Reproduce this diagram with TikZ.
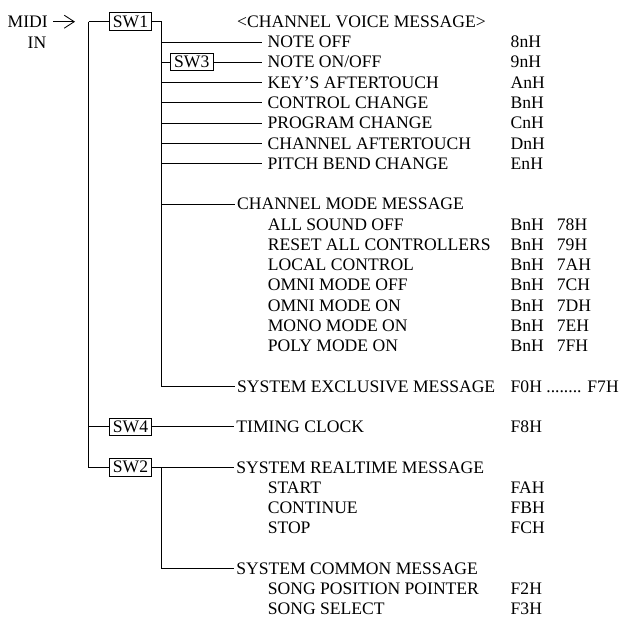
\documentclass[tikz,border=0pt]{standalone}
\usepackage{fontspec}
\setmainfont{Liberation Serif}
\usetikzlibrary{arrows.meta}
\newcommand{\fs}{\fontsize{17.6}{20}\selectfont}
\begin{document}
\begin{tikzpicture}[x=1pt,y=-1pt,
  lbl/.style={font=\fs, inner sep=0pt, text height=11.6pt, text depth=0pt, anchor=west},
  lead/.style={lbl, outer xsep=5.6pt},
  head/.style={lbl, outer xsep=2.4pt},
  swbox/.style={draw, line width=0.9pt, font=\fs, inner sep=0pt, minimum width=42.5pt, minimum height=17.5pt},
  wire/.style={line width=0.85pt}]
\useasboundingbox (0,0) rectangle (619,618);
% rows: y = 21.7 + 20.25 n
% input
\node[lbl, anchor=east] (midi) at (48,21.7) {MIDI};
\node[lbl, anchor=east] (in) at (46.5,42.5) {IN};
\coordinate (tip) at (75,21.7);
\draw[wire, -{Straight Barb[length=10pt,width=13pt,line width=0.85pt]}] ([xshift=5pt]midi.east) -- (tip);
% switches
\node[swbox] (sw1) at (130.5,21.7) {SW1};
\node[swbox] (sw3) at (191.7,{21.7+20.25*2}) {SW3};
\node[swbox] (sw4) at (130.5,{21.7+20.25*20}) {SW4};
\node[swbox] (sw2) at (130.5,{21.7+20.25*22}) {SW2};
% bus coordinates
\coordinate (m0) at (88.5,21.7);
\coordinate (m20) at (88.5,{21.7+20.25*20});
\coordinate (m22) at (88.5,{21.7+20.25*22});
\foreach \n in {0,1,2,3,4,5,6,7,9,18}{\coordinate (a\n) at (161.5,{21.7+20.25*\n});}
\coordinate (c22) at (161.7,{21.7+20.25*22});
\coordinate (c27) at (161.7,{21.7+20.25*27});
% channel voice
\node[lbl] (cvm) at (237,21.7) {<CHANNEL VOICE MESSAGE>};
\node[lead] (noff) at (262,{21.7+20.25*1}) {NOTE OFF};
\node[lead] (non) at (262,{21.7+20.25*2}) {NOTE ON/OFF};
\node[lead] (kat) at (262,{21.7+20.25*3}) {KEY’S AFTERTOUCH};
\node[lead] (cc) at (262,{21.7+20.25*4}) {CONTROL CHANGE};
\node[lead] (pc) at (262,{21.7+20.25*5}) {PROGRAM CHANGE};
\node[lead] (cat) at (262,{21.7+20.25*6}) {CHANNEL AFTERTOUCH};
\node[lead] (pb) at (262,{21.7+20.25*7}) {PITCH BEND CHANGE};
\node[lbl] (k1) at (510.5,{21.7+20.25*1}) {8nH};
\node[lbl] (k2) at (510.5,{21.7+20.25*2}) {9nH};
\node[lbl] (k3) at (510.5,{21.7+20.25*3}) {AnH};
\node[lbl] (k4) at (510.5,{21.7+20.25*4}) {BnH};
\node[lbl] (k5) at (510.5,{21.7+20.25*5}) {CnH};
\node[lbl] (k6) at (510.5,{21.7+20.25*6}) {DnH};
\node[lbl] (k7) at (510.5,{21.7+20.25*7}) {EnH};
% channel mode
\node[head] (cmm) at (234.7,{21.7+20.25*9}) {CHANNEL MODE MESSAGE};
\node[lbl] (s10) at (267.6,{21.7+20.25*10}) {ALL SOUND OFF};
\node[lbl] (s11) at (267.6,{21.7+20.25*11}) {RESET ALL CONTROLLERS};
\node[lbl] (s12) at (267.6,{21.7+20.25*12}) {LOCAL CONTROL};
\node[lbl] (s13) at (267.6,{21.7+20.25*13}) {OMNI MODE OFF};
\node[lbl] (s14) at (267.6,{21.7+20.25*14}) {OMNI MODE ON};
\node[lbl] (s15) at (267.6,{21.7+20.25*15}) {MONO MODE ON};
\node[lbl] (s16) at (267.6,{21.7+20.25*16}) {POLY MODE ON};
\foreach \n/\c in {10/78H,11/79H,12/7AH,13/7CH,14/7DH,15/7EH,16/7FH}{
  \node[lbl] (b\n) at (510.5,{21.7+20.25*\n}) {BnH};
  \node[lbl] (h\n) at (556.7,{21.7+20.25*\n}) {\c};
}
% system exclusive
\node[head] (sysex) at (234.7,{21.7+20.25*18}) {SYSTEM EXCLUSIVE MESSAGE};
\node[lbl] (kex) at (510.5,{21.7+20.25*18}) {F0H ........ F7H};
% timing
\node[head] (tc) at (234,{21.7+20.25*20}) {TIMING CLOCK};
\node[lbl] (k20) at (510.5,{21.7+20.25*20}) {F8H};
% realtime
\node[head] (srt) at (234,{21.7+20.25*22}) {SYSTEM REALTIME MESSAGE};
\node[lbl] (s23) at (267.6,{21.7+20.25*23}) {START};
\node[lbl] (s24) at (267.6,{21.7+20.25*24}) {CONTINUE};
\node[lbl] (s25) at (267.6,{21.7+20.25*25}) {STOP};
\node[lbl] (k23) at (510.5,{21.7+20.25*23}) {FAH};
\node[lbl] (k24) at (510.5,{21.7+20.25*24}) {FBH};
\node[lbl] (k25) at (510.5,{21.7+20.25*25}) {FCH};
% common
\node[head] (scm) at (234,{21.7+20.25*27}) {SYSTEM COMMON MESSAGE};
\node[lbl] (s28) at (267.6,{21.7+20.25*28}) {SONG POSITION POINTER};
\node[lbl] (s29) at (267.6,{21.7+20.25*29}) {SONG SELECT};
\node[lbl] (k28) at (510.5,{21.7+20.25*28}) {F2H};
\node[lbl] (k29) at (510.5,{21.7+20.25*29}) {F3H};
% wires
\draw[wire] (m0) -- (sw1.west);
\draw[wire] (m0) -- (m22) -- (sw2.west);
\draw[wire] (m20) -- (sw4.west);
\draw[wire] (sw1.east) -- (a0) -- (a18) -- (sysex.west);
\draw[wire] (a1) -- (noff.west);
\draw[wire] (a2) -- (sw3.west);
\draw[wire] (sw3.east) -- (non.west);
\draw[wire] (a3) -- (kat.west);
\draw[wire] (a4) -- (cc.west);
\draw[wire] (a5) -- (pc.west);
\draw[wire] (a6) -- (cat.west);
\draw[wire] (a7) -- (pb.west);
\draw[wire] (a9) -- (cmm.west);
\draw[wire] (sw4.east) -- (tc.west);
\draw[wire] (sw2.east) -- (srt.west);
\draw[wire] (c22) -- (c27) -- (scm.west);
\end{tikzpicture}
\end{document}
